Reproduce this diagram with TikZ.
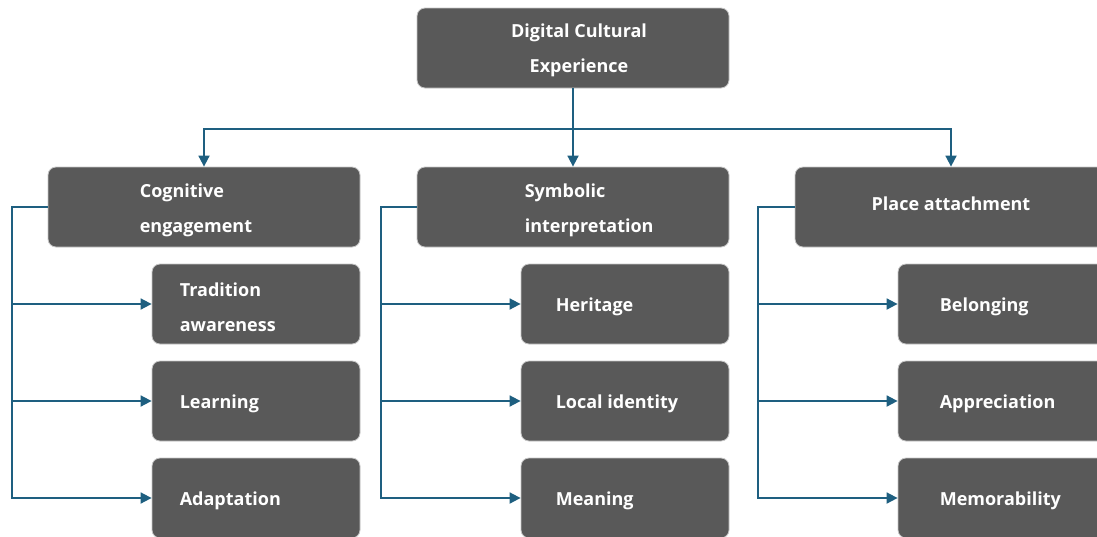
\documentclass[tikz,border=0pt]{standalone}
\usepackage{fontspec}
\setmainfont{Open Sans}
\usetikzlibrary{arrows.meta}
\definecolor{boxgray}{RGB}{89,89,89}
\definecolor{linkblue}{RGB}{30,95,128}
\tikzset{
  box/.style={draw=black!22, line width=0.8pt, fill=boxgray, rounded corners=8pt,
    minimum height=80pt, text=white, font=\fontsize{18}{35}\selectfont\bfseries, align=center},
  topbox/.style={box, minimum width=312pt},
  subbox/.style={box, minimum width=208pt},
  boxtext/.style={text=white, font=\fontsize{18}{35}\selectfont\bfseries, align=left, inner sep=0pt, yshift=-3pt},
  link/.style={draw=linkblue, line width=1.8pt},
  arr/.style={link, -{Triangle[length=11pt,width=11pt]}}
}
\newcommand{\boxtext}[3]{\node[boxtext, anchor=west] (#1-t) at ([xshift=#2]#1.west) {#3};}

\begin{document}
\begin{tikzpicture}[x=1pt, y=-1pt]
            \useasboundingbox (0,0) rectangle (1097,536);
            \clip (0,0) rectangle (1097,536);

            \node[topbox] (root) at (573,48) {};
            \node[boxtext, align=center] (root-t) at (579,47) {Digital Cultural\\Experience};

            \node[topbox] (cog) at (204,207) {};
            \node[topbox] (sym) at (573,207) {};
            \node[topbox] (place) at (951,207) {};
            \node[boxtext, yshift=6pt] (place-t) at (place) {Place attachment};
            \boxtext{cog}{92pt}{Cognitive\\engagement}
            \boxtext{sym}{108pt}{Symbolic\\interpretation}

            \node[subbox] (trad) at (256,304) {};
            \node[subbox] (learn) at (256,401) {};
            \node[subbox] (adapt) at (256,498) {};
            \boxtext{trad}{28pt}{Tradition\\awareness}
            \boxtext{learn}{28pt}{Learning}
            \boxtext{adapt}{28pt}{Adaptation}

            \node[subbox] (herit) at (625,304) {};
            \node[subbox] (ident) at (625,401) {};
            \node[subbox] (mean) at (625,498) {};
            \boxtext{herit}{35pt}{Heritage}
            \boxtext{ident}{35pt}{Local identity}
            \boxtext{mean}{35pt}{Meaning}

            \node[subbox] (belong) at (1002,304) {};
            \node[subbox] (apprec) at (1002,401) {};
            \node[subbox] (memo) at (1002,498) {};
            \boxtext{belong}{42pt}{Belonging}
            \boxtext{apprec}{42pt}{Appreciation}
            \boxtext{memo}{42pt}{Memorability}

            % root to the three dimensions
            \coordinate (bar) at (573,129);
            \draw[arr] (root.south) -- (sym.north);
            \draw[arr] (bar) -| (cog.north);
            \draw[arr] (bar) -| (place.north);

            % dimension to its items
            \draw[arr] (cog.west) -- ++(-36,0) coordinate (c1) |- (adapt.west);
            \draw[arr] (c1 |- trad.west) -- (trad.west);
            \draw[arr] (c1 |- learn.west) -- (learn.west);

            \draw[arr] (sym.west) -- ++(-36,0) coordinate (c2) |- (mean.west);
            \draw[arr] (c2 |- herit.west) -- (herit.west);
            \draw[arr] (c2 |- ident.west) -- (ident.west);

            \draw[arr] (place.west) -- ++(-37,0) coordinate (c3) |- (memo.west);
            \draw[arr] (c3 |- belong.west) -- (belong.west);
            \draw[arr] (c3 |- apprec.west) -- (apprec.west);
        \end{tikzpicture}
\end{document}
